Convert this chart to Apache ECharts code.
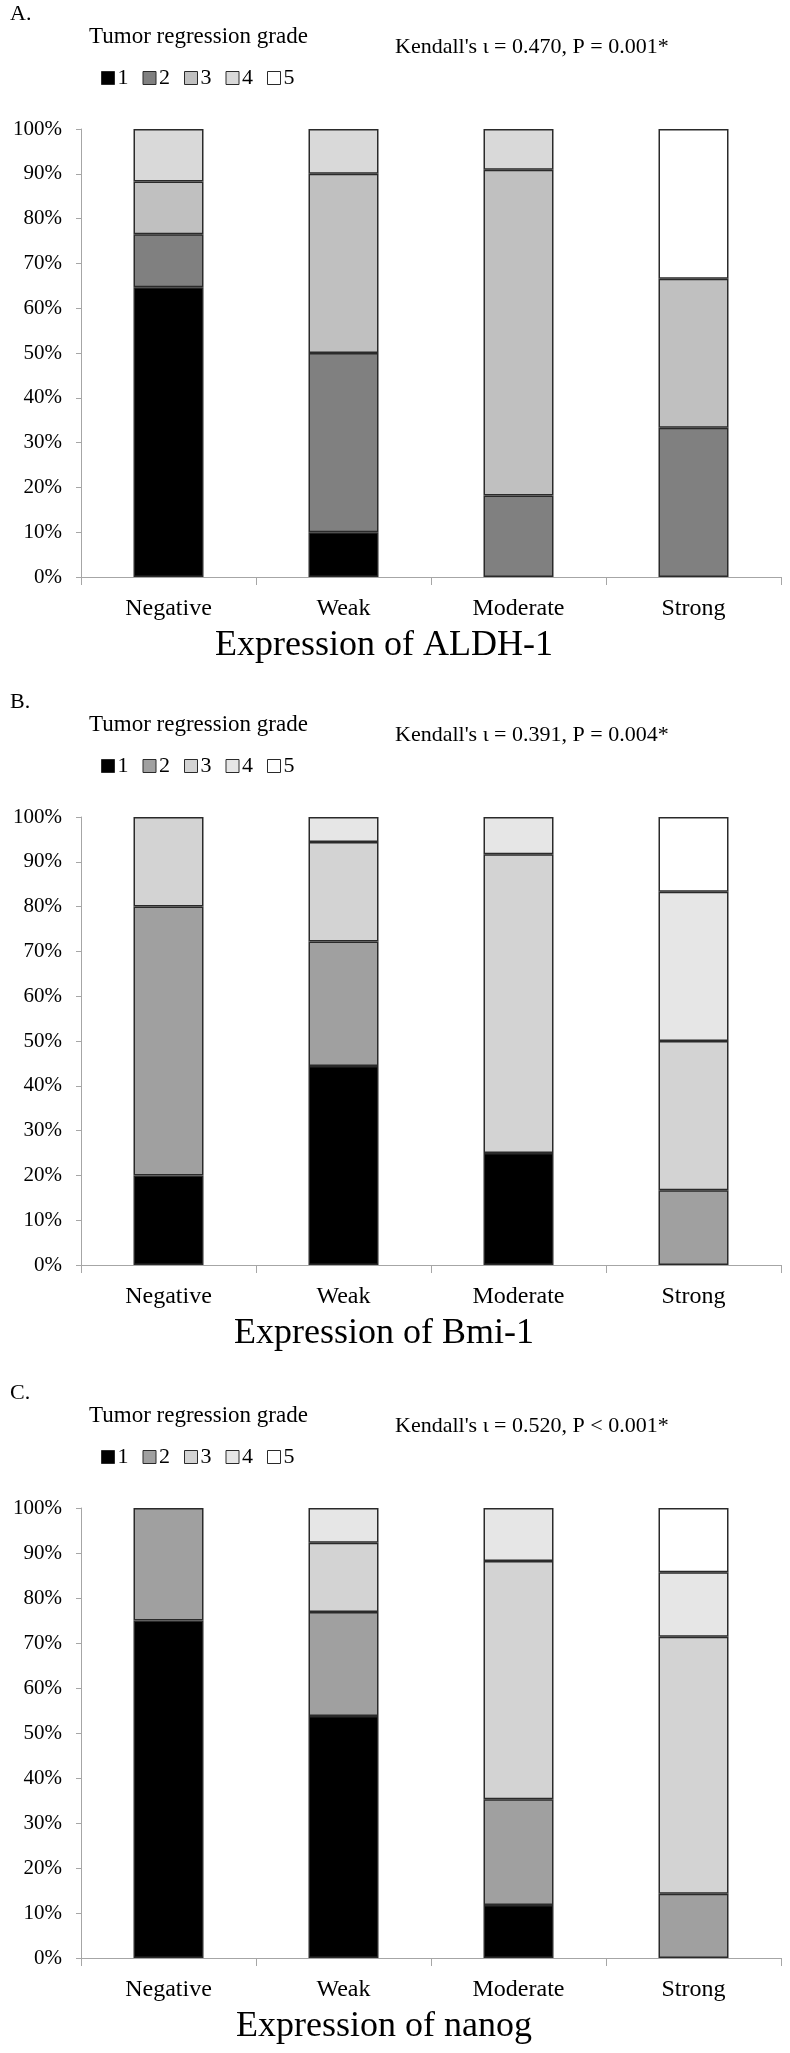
<!DOCTYPE html>
<html>
<head>
<meta charset="utf-8">
<script src="https://cdn.jsdelivr.net/npm/echarts@6/dist/echarts.min.js"></script>
<style>
html,body{margin:0;padding:0;background:#fff;}
#chart{width:790px;height:2053px;}
</style>
</head>
<body>
<div id="chart"></div>
<script>
// ---- data ----
var categories = ['Negative', 'Weak', 'Moderate', 'Strong'];
var gradeNames = ['1', '2', '3', '4', '5'];
var yTicks = [0, 10, 20, 30, 40, 50, 60, 70, 80, 90, 100];

// Panel A: ALDH-1 (percent per tumor regression grade)
var aldhG1 = [64.7, 10.0, 0, 0];
var aldhG2 = [11.8, 40.0, 18.2, 33.3];
var aldhG3 = [11.8, 40.0, 72.7, 33.3];
var aldhG4 = [11.7, 10.0, 9.1, 0];
var aldhG5 = [0, 0, 0, 33.4];

// Panel B: Bmi-1
var bmiG1 = [20.0, 44.4, 25.0, 0];
var bmiG2 = [60.0, 27.8, 0, 16.7];
var bmiG3 = [20.0, 22.2, 66.7, 33.3];
var bmiG4 = [0, 5.6, 8.3, 33.3];
var bmiG5 = [0, 0, 0, 16.7];

// Panel C: nanog
var nanogG1 = [75.0, 53.8, 11.8, 0];
var nanogG2 = [25.0, 23.1, 23.5, 14.3];
var nanogG3 = [0, 15.4, 52.9, 57.1];
var nanogG4 = [0, 7.7, 11.8, 14.3];
var nanogG5 = [0, 0, 0, 14.3];

var panelLetters = ['A.', 'B.', 'C.'];
var panelStats = ["Kendall's \u03B9 = 0.470, P = 0.001*", "Kendall's \u03B9 = 0.391, P = 0.004*", "Kendall's \u03B9 = 0.520, P < 0.001*"];
var panelTitles = ['Expression of ALDH-1', 'Expression of Bmi-1', 'Expression of nanog'];
var legendTitle = 'Tumor regression grade';

// ---- styling ----
var colorsA = ['#000000', '#808080', '#c0c0c0', '#d9d9d9', '#ffffff'];
var colorsBC = ['#000000', '#a0a0a0', '#d3d3d3', '#e6e6e6', '#ffffff'];
var FONT = "'Liberation Serif', 'Times New Roman', serif";

var panels = [
  {data: [aldhG1, aldhG2, aldhG3, aldhG4, aldhG5], colors: colorsA, top: 129, height: 448},
  {data: [bmiG1, bmiG2, bmiG3, bmiG4, bmiG5], colors: colorsBC, top: 817, height: 448},
  {data: [nanogG1, nanogG2, nanogG3, nanogG4, nanogG5], colors: colorsBC, top: 1508, height: 450}
];

var grids = [], xAxes = [], yAxes = [], series = [], legends = [], graphics = [];
panels.forEach(function (p, i) {
  var key = 'ABC'[i];
  grids.push({left: 81, right: 9, top: p.top, height: p.height});
  xAxes.push({
    type: 'category', gridIndex: i, data: categories,
    axisLine: {show: true, lineStyle: {color: '#a6a6a6', width: 1}},
    axisTick: {show: true, length: 8, lineStyle: {color: '#a6a6a6'}},
    axisLabel: {fontFamily: FONT, fontSize: 24, color: '#000', margin: 20}
  });
  yAxes.push({
    type: 'value', gridIndex: i, min: 0, max: 100, interval: 10,
    axisLine: {show: true, lineStyle: {color: '#a6a6a6', width: 1}},
    axisTick: {show: true, length: 5, lineStyle: {color: '#a6a6a6'}},
    splitLine: {show: false},
    axisLabel: {fontFamily: FONT, fontSize: 21, color: '#000', margin: 19,
      formatter: function (v) { return v + '%'; }}
  });
  var names = [];
  p.data.forEach(function (arr, g) {
    var nm = key + gradeNames[g];
    names.push(nm);
    series.push({
      type: 'bar', name: nm, xAxisIndex: i, yAxisIndex: i, stack: 'stack' + key,
      barWidth: 70,
      data: arr.map(function (v) { return v === 0 ? '-' : v; }),
      itemStyle: {color: p.colors[g], borderColor: '#2a2a2a', borderWidth: 1.5},
      emphasis: {disabled: true},
      animation: false
    });
  });
  legends.push({
    data: names, left: 96, top: p.top - 67, orient: 'horizontal',
    icon: 'rect', itemWidth: 13, itemHeight: 13, itemGap: 14,
    selectedMode: false,
    itemStyle: {borderColor: '#2a2a2a', borderWidth: 1},
    textStyle: {fontFamily: FONT, fontSize: 22, color: '#000', padding: [0, 0, 0, -2]},
    formatter: function (n) { return n.slice(1); }
  });
  var base = p.top + p.height;
  graphics.push({type: 'text', x: 10, y: p.top - 115,
    style: {text: panelLetters[i], font: '22px ' + FONT, fill: '#000', verticalAlign: 'middle'}});
  graphics.push({type: 'text', x: 89, y: p.top - 92,
    style: {text: legendTitle, font: '23px ' + FONT, fill: '#000', verticalAlign: 'middle'}});
  graphics.push({type: 'text', x: 395, y: p.top - 82,
    style: {text: panelStats[i], font: '22px ' + FONT, fill: '#000', verticalAlign: 'middle'}});
  graphics.push({type: 'text', x: 384, y: base + 69,
    style: {text: panelTitles[i], font: '36px ' + FONT, fill: '#000', align: 'center', verticalAlign: 'middle'}});
});

var chart = echarts.init(document.getElementById('chart'), null, {renderer: 'canvas'});
chart.setOption({
  backgroundColor: '#ffffff',
  animation: false,
  grid: grids, xAxis: xAxes, yAxis: yAxes, series: series,
  legend: legends, graphic: graphics
});
</script>
</body>
</html>
